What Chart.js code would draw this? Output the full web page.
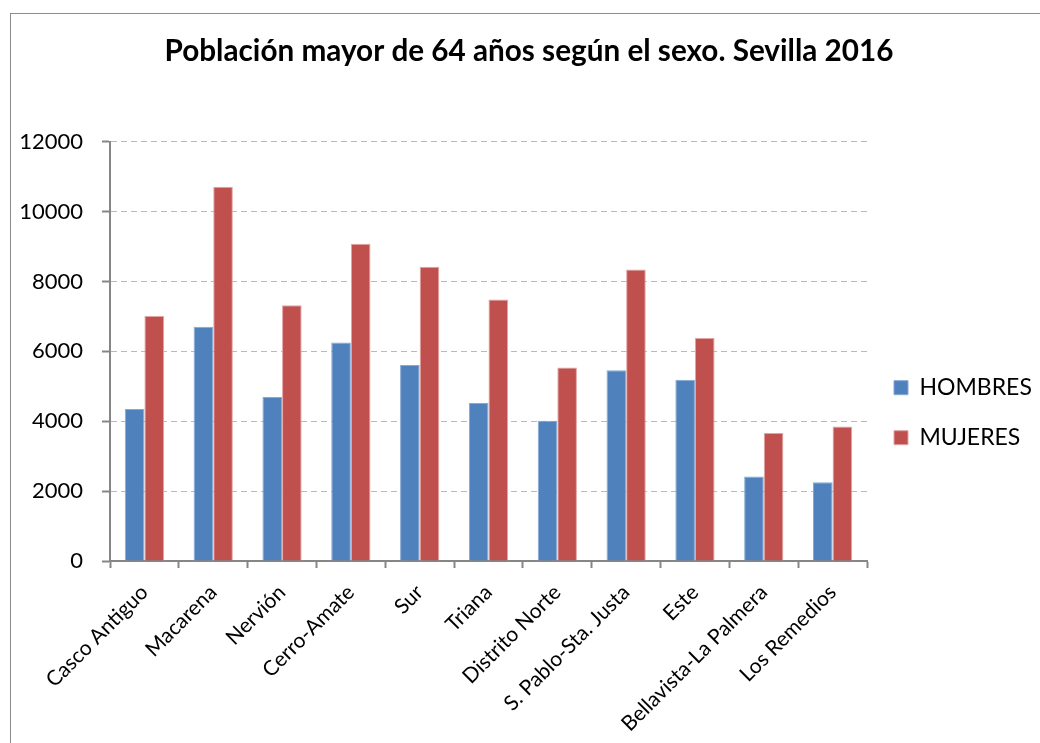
<!DOCTYPE html>
<html><head><meta charset="utf-8">
<script src="https://cdn.jsdelivr.net/npm/chart.js@4/dist/chart.umd.min.js"></script>
<style>
html,body{margin:0;padding:0;background:#fff;overflow:hidden;width:1040px;height:743px}
#frame{position:absolute;left:10px;top:13px;width:1100px;height:800px;border:1px solid #8c8c8c;box-sizing:border-box}
#wrap{position:absolute;left:0;top:0;width:1040px;height:743px}
canvas{position:absolute;left:0;top:0}
</style></head><body>
<div id="frame"></div>
<div id="wrap"><canvas id="c" width="1040" height="743"></canvas></div>
<script>
const categories = ['Casco Antiguo','Macarena','Nervión','Cerro-Amate','Sur','Triana','Distrito Norte','S. Pablo-Sta. Justa','Este','Bellavista-La Palmera','Los Remedios'];
const hombres = [4350, 6700, 4690, 6250, 5610, 4520, 4010, 5460, 5190, 2420, 2250];
const mujeres = [7010, 10710, 7320, 9080, 8420, 7480, 5540, 8340, 6380, 3660, 3850];
const yMin = 0, yMax = 12000, yStep = 2000;
const titleText = 'Población mayor de 64 años según el sexo. Sevilla 2016';

const axisGray = '#868686';
new Chart(document.getElementById('c'), {
  type: 'bar',
  data: {
    labels: categories,
    datasets: [
      {label: 'HOMBRES', data: hombres, backgroundColor: '#4f81bd', borderColor: '#86a8d4', borderWidth: 1},
      {label: 'MUJERES', data: mujeres, backgroundColor: '#c0504d', borderColor: '#e2a4a2', borderWidth: 1}
    ]
  },
  options: {
    responsive: false,
    animation: false,
    devicePixelRatio: 1,
    layout: {padding: {left: 18, right: 0, top: 0, bottom: 0}},
    datasets: {bar: {barPercentage: 1, categoryPercentage: 0.57}},
    plugins: {
      title: {display: true, text: titleText, color: '#000',
        font: {family: 'Lato', weight: 'bold', size: 29.7}, padding: {top: 34, bottom: 72}},
      legend: {position: 'right', align: 'center', maxWidth: 173,
        title: {display: true, text: '', font: {size: 12}, padding: {top: 34, bottom: 34}},
        labels: {boxWidth: 14, boxHeight: 14, padding: 27, color: '#000',
          font: {family: 'Lato', size: 23}}},
      tooltip: {enabled: false}
    },
    scales: {
      x: {
        grid: {offset: true, drawOnChartArea: false, tickLength: 7, tickColor: axisGray, tickWidth: 2},
        border: {color: axisGray, width: 2},
        ticks: {minRotation: 45, maxRotation: 45, color: '#000', padding: 12, font: {family: 'Lato', size: 21}},
        afterFit: s => { s.height = 182; }
      },
      y: {
        min: yMin, max: yMax,
        ticks: {stepSize: yStep, color: '#000', padding: 19, font: {family: 'Lato', size: 22},
          callback: v => String(v)},
        grid: {color: '#bababa', lineWidth: 1, tickLength: 8, tickColor: axisGray, tickWidth: 2, tickBorderDash: []},
        border: {color: axisGray, width: 2, dash: [6, 4]},
        afterFit: s => { s.width = 92; }
      }
    }
  }
});
</script>
</body></html>
